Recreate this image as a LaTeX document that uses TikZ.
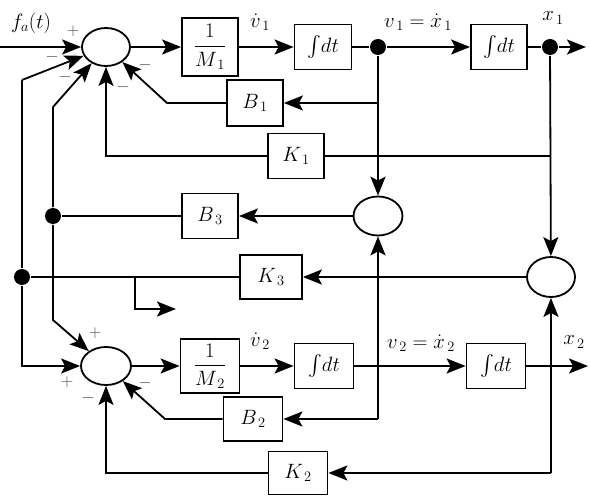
\documentclass[tikz,border=0pt]{standalone}
\usepackage{amsmath}
\usetikzlibrary{shapes.geometric,arrows.meta,calc}
\begin{document}
\begin{tikzpicture}[x=1pt,y=-1pt,
  line width=1.8pt,
  >={Stealth[length=19pt,width=15pt,inset=4pt]},
  blk/.style={draw,rectangle,minimum width=57pt,minimum height=45pt,inner sep=0pt,font=\fontsize{22}{26}\selectfont},
  sum/.style={draw,ellipse,minimum width=48pt,minimum height=38pt,inner sep=0pt},
  jdot/.style={circle,fill,minimum size=16pt,inner sep=0pt},
  lbl/.style={font=\fontsize{22}{26}\selectfont,inner sep=1pt},
  sgn/.style={font=\fontsize{16}{18}\selectfont,text=black!70,inner sep=0pt},
]
\useasboundingbox (0,0) rectangle (590,497);
% top row
\coordinate (inA) at (0,47);
\node[sum] (sumA) at (106,47) {};
\node[blk,minimum width=56pt,minimum height=58pt] (mA) at (210,47) {$\dfrac{1}{M_{\,1}}$};
\node[blk] (intA) at (323,47) {$\int\! dt$};
\node[jdot] (dotA) at (378,47) {};
\node[blk,minimum width=56pt] (intB) at (499,47) {$\int\! dt$};
\node[jdot] (dotB) at (550,47) {};
\coordinate (outA) at (586,47);
% feedback blocks
\node[blk,minimum width=56pt,minimum height=46pt] (B1) at (255,103) {$B_{\,1}$};
\node[blk,minimum width=56pt] (K1) at (296,156) {$K_{\,1}$};
\node[sum,minimum width=49pt,minimum height=39pt] (sumC) at (378,216) {};
\node[blk,minimum width=56pt] (B3) at (210,216) {$B_{\,3}$};
\node[jdot] (dotC) at (53,216) {};
\node[sum,minimum height=40pt] (sumD) at (551,277) {};
\node[blk,minimum width=62pt,minimum height=44pt] (K3) at (271,277) {$K_{\,3}$};
\node[jdot] (dotD) at (22,277) {};
% bottom row
\node[sum,minimum width=50pt] (sumB) at (106,366) {};
\node[blk,minimum width=59pt,minimum height=54pt] (mB) at (210,366) {$\dfrac{1}{M_{\,2}}$};
\node[blk,minimum width=59pt] (intC) at (324,366) {$\int\! dt$};
\node[blk,minimum width=59pt] (intD) at (496,366) {$\int\! dt$};
\coordinate (outB) at (588,366);
\node[blk,minimum width=59pt,minimum height=44pt] (B2) at (253,419) {$B_{\,2}$};
\node[blk,minimum width=59pt,minimum height=43pt] (K2) at (298,473) {$K_{\,2}$};
% helper coordinates
\coordinate (b1c) at (167,103);
\coordinate (b2c) at (165,419);
\coordinate (l1top) at (22,80);
\coordinate (l1bot) at (22,366);
\coordinate (l2top) at (53,107);
\coordinate (l2bot) at (53,320);
\coordinate (brA) at (135,277);
\coordinate (brB) at (135,309);
\coordinate (brC) at (176,309);
\coordinate (jv2) at (378,419);
\coordinate (jx2) at (551,473);
% top row connectors
\draw[->] (inA) -- (sumA);
\draw[->] (sumA) -- (mA);
\draw[->] (mA) -- (intA);
\draw (intA) -- (dotA);
\draw[->] (dotA) -- (intB);
\draw (intB) -- (dotB);
\draw[->] (dotB) -- (outA);
% v1 branches
\draw[->] (dotA) -- (sumC);
\draw[->] (dotA |- B1) -- (B1);
\draw[->] (B1) -- (b1c) -- (sumA);
% x1 branches
\draw[->] (dotB) -- (sumD);
\draw (dotB |- K1) -- (K1);
\draw[->] (K1.west) -| (sumA.south);
% middle
\draw[->] (sumC) -- (B3);
\draw (B3) -- (dotC);
\draw[->] (sumD) -- (K3);
\draw (K3) -- (dotD);
\draw[->] (brA) -- (brB) -- (brC);
% left lines
\draw[->] (l1top) -- (sumA);
\draw[->] (l1top) -- (dotD) -- (l1bot) -- (sumB);
\draw[->] (l2top) -- (sumA);
\draw[->] (l2top) -- (dotC) -- (l2bot) -- (sumB);
% bottom row connectors
\draw[->] (sumB) -- (mB);
\draw[->] (mB) -- (intC);
\draw[->] (intC) -- (intD);
\draw[->] (intD) -- (outB);
\draw[->] (jv2) -- (sumC);
\draw[->] (jv2) -- (B2);
\draw[->] (B2) -- (b2c) -- (sumB);
\draw[->] (jx2) -- (sumD);
\draw[->] (jx2) -- (K2);
\draw[->] (K2.west) -| (sumB.south);
% labels
\node[lbl] (fa) at (31,23) {$f_a(t)$};
\node[lbl] (vd1) at (260,22) {$\dot{v}_{\,1}$};
\node[lbl] (v1) at (418,22) {$v_{\,1}=\dot{x}_{\,1}$};
\node[lbl] (x1) at (553,18) {$x_{\,1}$};
\node[lbl] (vd2) at (260,341) {$\dot{v}_{\,2}$};
\node[lbl] (v2) at (421,343) {$v_{\,2}=\dot{x}_{\,2}$};
\node[lbl] (x2) at (574,342) {$x_{\,2}$};
% signs
\node[sgn] (sA1) at (73,31) {$+$};
\node[sgn] (sA2) at (52,57) {$-$};
\node[sgn] (sA3) at (65,77) {$-$};
\node[sgn] (sA4) at (123,87) {$-$};
\node[sgn] (sA5) at (145,65) {$-$};
\node[sgn] (sB1) at (95,333) {$+$};
\node[sgn] (sB2) at (67,382) {$+$};
\node[sgn] (sB3) at (88,398) {$-$};
\node[sgn] (sB4) at (145,383) {$-$};
\end{tikzpicture}
\end{document}
